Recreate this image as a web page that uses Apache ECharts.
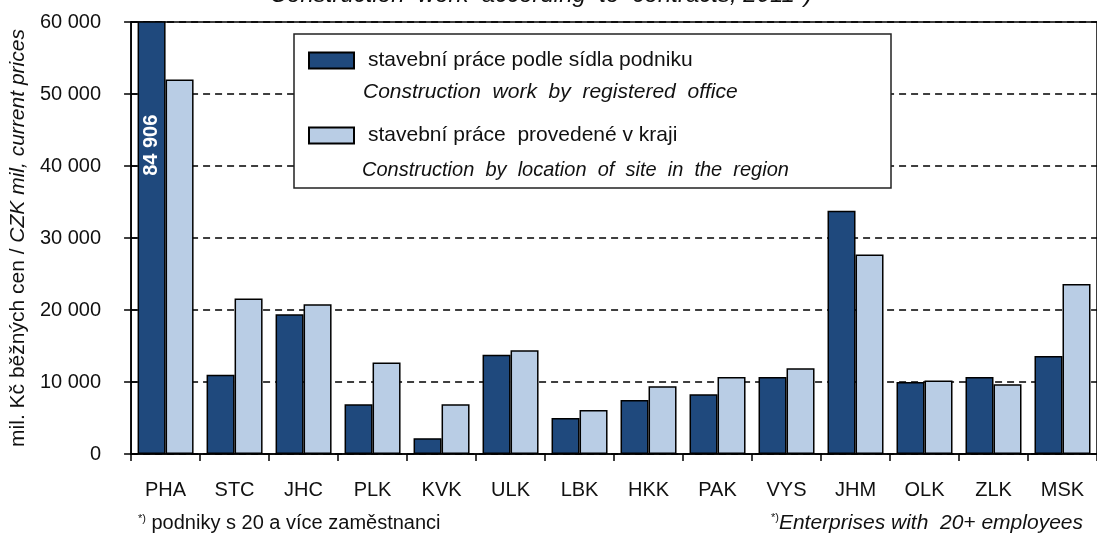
<!DOCTYPE html>
<html>
<head>
<meta charset="utf-8">
<script src="https://cdn.jsdelivr.net/npm/echarts@6/dist/echarts.min.js"></script>
<style>
  html, body { margin: 0; padding: 0; background: #fff; }
  #chart { width: 1097px; height: 535px; }
</style>
</head>
<body>
<div id="chart"></div>
<script>
// regions (kraje)
const categories = ['PHA', 'STC', 'JHC', 'PLK', 'KVK', 'ULK', 'LBK', 'HKK', 'PAK', 'VYS', 'JHM', 'OLK', 'ZLK', 'MSK']

// mil. Kč – by registered office / by location of site
const byOffice = [84906, 11000, 19400, 6900, 2200, 13800, 5000, 7500, 8300, 10700, 33800, 10000, 10700, 13600]
const bySite = [52000, 21600, 20800, 12700, 6900, 14400, 6100, 9400, 10700, 11900, 27700, 10200, 9700, 23600]

const seriesNames = ['stavební práce podle sídla podniku', 'stavební práce  provedené v kraji']
const seriesNamesEn = ['Construction  work  by  registered  office', 'Construction  by  location  of  site  in  the  region']

const yMin = 0
const yMax = 60000
const yStep = 10000

const fmt = (v) => String(v).replace(/\B(?=(\d{3})+(?!\d))/g, ' ')

const FONT = '"Liberation Sans", Arial, sans-serif'
const dark = '#1F497D'
const light = '#B9CDE5'

const chart = echarts.init(document.getElementById('chart'), null, { renderer: 'canvas' })

const officeData = byOffice.map((v) => {
  // Praha overflows the axis, value is written inside the bar
  if (v > yMax) {
    return {
      value: v,
      label: {
        show: true,
        position: [14, 124],
        rotate: 90,
        align: 'center',
        verticalAlign: 'middle',
        color: '#fff',
        fontWeight: 'bold',
        fontSize: 20,
        fontFamily: FONT,
        formatter: (p) => fmt(p.value)
      }
    }
  }
  return v
})

const option = {
  animation: false,
  backgroundColor: '#fff',
  textStyle: { fontFamily: FONT, color: '#111' },
  grid: {
    left: 130,
    right: -6,
    top: 22,
    bottom: 81,
    show: true,
    borderColor: '#000',
    borderWidth: 1.5,
    backgroundColor: 'transparent'
  },
  legend: {
    orient: 'vertical',
    left: 303,
    top: 45,
    icon: 'rect',
    itemWidth: 45,
    itemHeight: 16,
    itemGap: 54,
    z: 6,
    selectedMode: false,
    data: seriesNames,
    textStyle: {
      fontFamily: FONT,
      fontSize: 21,
      color: '#111',
      padding: [0, 0, 0, 9]
    }
  },
  xAxis: {
    type: 'category',
    data: categories,
    axisLine: { lineStyle: { color: '#000', width: 1.5 } },
    axisTick: { show: true, length: 7, interval: 0, lineStyle: { color: '#000', width: 1.5 } },
    axisLabel: { interval: 0, margin: 26, fontSize: 20, color: '#111', fontFamily: FONT },
    splitLine: { show: false }
  },
  yAxis: [
    {
      type: 'value',
      min: yMin,
      max: yMax,
      interval: yStep,
      name: '{cz|mil. Kč běžných cen / }{en|CZK mil, current prices}',
      nameLocation: 'middle',
      nameGap: 100,
      nameRotate: 90,
      nameTextStyle: {
        rich: {
          cz: { fontSize: 21, fontFamily: FONT, color: '#111' },
          en: { fontSize: 21, fontFamily: FONT, color: '#111', fontStyle: 'italic' }
        }
      },
      axisLine: { show: true, lineStyle: { color: '#000', width: 1.5 } },
      axisTick: { show: true, length: 7, lineStyle: { color: '#000', width: 1.5 } },
      axisLabel: { margin: 30, fontSize: 20, color: '#111', fontFamily: FONT, formatter: fmt },
      splitLine: { show: true, lineStyle: { color: '#000', width: 1.5, type: [7, 5] } }
    },
    {
      // inner half of the crossing ticks
      type: 'value',
      position: 'left',
      min: yMin,
      max: yMax,
      interval: yStep,
      axisLine: { show: false },
      axisTick: { show: true, inside: true, length: 6, lineStyle: { color: '#000', width: 1.5 } },
      axisLabel: { show: false },
      splitLine: { show: false }
    }
  ],
  series: [
    {
      name: seriesNames[0],
      type: 'bar',
      data: officeData,
      barWidth: 28,
      barGap: '0%',
      itemStyle: { color: dark, borderColor: '#000', borderWidth: 1.5 }
    },
    {
      name: seriesNames[1],
      type: 'bar',
      data: bySite,
      barWidth: 28,
      barGap: '0%',
      itemStyle: { color: light, borderColor: '#000', borderWidth: 1.5 }
    }
  ],
  graphic: [
    {
      type: 'rect',
      z: 5,
      shape: { x: 294, y: 34, width: 597, height: 154 },
      style: { fill: '#fff', stroke: '#222', lineWidth: 1.5 }
    },
    {
      type: 'text',
      z: 6,
      x: 363,
      y: 92,
      style: {
        text: seriesNamesEn[0],
        font: 'italic 21px ' + FONT,
        fill: '#111',
        verticalAlign: 'middle'
      }
    },
    {
      type: 'text',
      z: 6,
      x: 362,
      y: 170,
      style: {
        text: seriesNamesEn[1],
        font: 'italic 20px ' + FONT,
        fill: '#111',
        verticalAlign: 'middle'
      }
    },
    {
      type: 'text',
      z: 6,
      x: 541,
      y: 7,
      style: {
        text: 'Construction  work  according  to  contracts, 2011*)',
        font: 'italic 24px ' + FONT,
        fill: '#111',
        align: 'center',
        verticalAlign: 'bottom'
      }
    },
    {
      type: 'text',
      z: 6,
      x: 138,
      y: 523,
      style: {
        text: '{s|*)} podniky s 20 a více zaměstnanci',
        font: '20px ' + FONT,
        fill: '#111',
        verticalAlign: 'middle',
        rich: { s: { fontSize: 11, fontFamily: FONT, fill: '#111', verticalAlign: 'top', padding: [0, 0, 8, 0] } }
      }
    },
    {
      type: 'text',
      z: 6,
      x: 1083,
      y: 523,
      style: {
        text: '{s|*)}Enterprises with  20+ employees',
        font: 'italic 21px ' + FONT,
        fill: '#111',
        align: 'right',
        verticalAlign: 'middle',
        rich: { s: { fontSize: 11, fontFamily: FONT, fill: '#111', verticalAlign: 'top', padding: [0, 0, 8, 0] } }
      }
    }
  ]
}

chart.setOption(option)
window.addEventListener('resize', () => chart.resize())
</script>
</body>
</html>
